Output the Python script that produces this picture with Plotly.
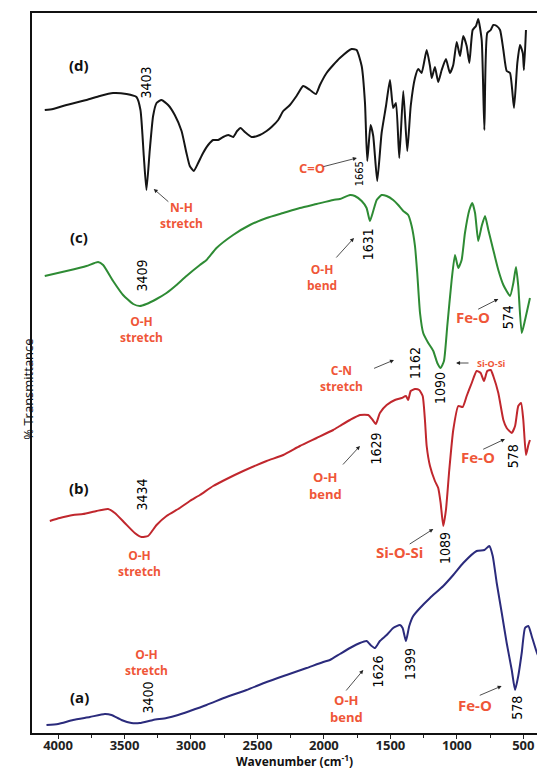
import plotly.graph_objects as go

# ---------------- data (wavenumber cm^-1, transmittance in arbitrary offset units) ----------------
wn_d = [4100, 4038, 3937, 3786, 3686, 3586, 3485, 3410, 3380, 3355, 3335, 3310, 3285, 3259, 3222, 3172,
        3122, 3071, 3034, 3009, 2979, 2946, 2909, 2871, 2833, 2796, 2758, 2720, 2683, 2653, 2627, 2595,
        2544, 2482, 2431, 2394, 2344, 2306, 2256, 2206, 2156, 2105, 2060, 2030, 1980, 1930, 1880, 1792,
        1754, 1716, 1691, 1674, 1649, 1629, 1599, 1566, 1533, 1503, 1479, 1458, 1433, 1403, 1373, 1347,
        1315, 1290, 1265, 1227, 1202, 1189, 1165, 1140, 1114, 1082, 1052, 1027, 1001, 976, 952, 926,
        906, 881, 856, 839, 813, 793, 771, 745, 726, 700, 675, 650, 625, 600, 570, 545, 525, 504, 495, 480]
tr_d = [623, 624, 628, 633, 637, 640, 639, 636, 623, 577, 543, 583, 617, 630, 633, 628,
        618, 602, 580, 567, 562, 570, 580, 588, 593, 593, 596, 598, 596, 602, 605, 601,
        596, 598, 602, 606, 613, 622, 628, 637, 647, 643, 639, 648, 660, 668, 675, 684,
        683, 667, 630, 572, 608, 597, 552, 600, 627, 653, 625, 630, 575, 642, 582, 627,
        655, 664, 660, 683, 667, 655, 666, 651, 663, 674, 660, 668, 691, 677, 697, 687,
        670, 703, 707, 714, 693, 603, 700, 703, 708, 707, 703, 683, 662, 660, 625, 670, 688, 680, 663, 703]

wn_c = [4100, 3937, 3786, 3699, 3661, 3586, 3511, 3435, 3385, 3335, 3259, 3184, 3109, 3034, 2933, 2883,
        2808, 2683, 2557, 2431, 2306, 2181, 2055, 1930, 1880, 1804, 1767, 1716, 1679, 1654, 1629, 1603,
        1566, 1528, 1479, 1441, 1403, 1366, 1340, 1315, 1298, 1277, 1253, 1215, 1177, 1147, 1122, 1097,
        1072, 1039, 1014, 989, 964, 939, 906, 884, 863, 839, 813, 788, 763, 726, 688, 650, 600, 575,
        555, 538, 512, 487, 450]
tr_c = [457, 462, 467, 471, 468, 452, 438, 429, 427, 429, 434, 440, 448, 457, 468, 473,
        485, 498, 508, 515, 520, 525, 529, 533, 534, 538, 537, 532, 525, 512, 522, 533,
        538, 537, 533, 528, 522, 518, 507, 487, 460, 420, 400, 390, 382, 370, 365, 372,
        407, 453, 478, 465, 473, 500, 523, 530, 520, 492, 507, 517, 503, 483, 463, 448, 437, 450,
        466, 447, 400, 413, 435]

wn_b = [4062, 3987, 3887, 3812, 3711, 3624, 3573, 3498, 3423, 3372, 3323, 3259, 3184, 3084, 3009, 2933,
        2833, 2732, 2607, 2431, 2306, 2181, 2055, 1930, 1880, 1804, 1729, 1667, 1633, 1609, 1579, 1528,
        1466, 1415, 1383, 1366, 1347, 1315, 1283, 1257, 1240, 1227, 1202, 1165, 1140, 1122, 1102, 1082,
        1057, 1027, 989, 956, 926, 888, 851, 821, 796, 771, 745, 726, 688, 650, 625, 587, 562, 538,
        517, 500, 480, 462, 450]
tr_b = [212, 215, 218, 219, 222, 224, 220, 210, 200, 196, 197, 208, 217, 225, 232, 238,
        247, 254, 262, 272, 278, 287, 295, 303, 307, 313, 318, 318, 313, 309, 320, 328,
        333, 335, 337, 333, 342, 344, 343, 337, 313, 287, 267, 252, 245, 230, 207, 223,
        263, 303, 327, 326, 337, 350, 362, 360, 352, 362, 363, 357, 340, 313, 305, 300, 307, 327,
        330, 313, 278, 288, 293]

wn_a = [4087, 4000, 3887, 3761, 3648, 3598, 3523, 3448, 3385, 3285, 3184, 3097, 3009, 2883, 2732, 2582,
        2431, 2281, 2130, 2005, 1955, 1880, 1804, 1729, 1679, 1649, 1616, 1579, 1528, 1479, 1428, 1408,
        1383, 1358, 1328, 1277, 1202, 1102, 1027, 952, 851, 793, 756, 730, 700, 662, 625, 587, 562,
        538, 512, 487, 462, 437, 397, 337]
tr_a = [8, 9, 13, 16, 19, 18, 13, 10, 10, 13, 15, 18, 22, 28, 36, 43,
        51, 58, 65, 71, 73, 79, 85, 90, 92, 88, 85, 92, 98, 105, 108, 105,
        92, 107, 117, 125, 135, 147, 158, 170, 182, 183, 187, 177, 150, 120, 90, 63, 43,
        57, 80, 105, 107, 97, 80, 63]

x_ticks = [4000, 3500, 3000, 2500, 2000, 1500, 1000, 500]

# peak labels: (text, wavenumber, level, font size)
peak_labels = [("3403", 3335, 651, 14), ("1665", 1734, 559, 11), ("1631", 1667, 489, 14),
               ("3409", 3372, 457, 14), ("574", 613, 416, 14), ("1162", 1315, 370, 14),
               ("1090", 1127, 345, 14), ("1629", 1611, 284, 14), ("578", 575, 277, 14),
               ("3434", 3365, 239, 14), ("1089", 1089, 185, 14), ("3400", 3327, 35, 14),
               ("1626", 1596, 61, 14), ("1399", 1353, 69, 14), ("578", 550, 25, 14)]

# band assignment labels: (text, wavenumber, level, font size)
band_labels = [("N-H<br>stretch", 3071, 518, 12), ("C=O", 2088, 565, 13),
               ("O-H<br>bend", 2017, 456, 12), ("O-H<br>stretch", 3372, 404, 12),
               ("Fe-O", 876, 416, 15), ("C-N<br>stretch", 1867, 355, 12),
               ("Si-O-Si", 738, 370, 9), ("O-H<br>bend", 1985, 248, 13),
               ("Fe-O", 839, 276, 15), ("O-H<br>stretch", 3389, 170, 12),
               ("Si-O-Si", 1428, 181, 15), ("O-H<br>stretch", 3335, 71, 12),
               ("O-H<br>bend", 1829, 25, 13), ("Fe-O", 863, 28, 15)]

# arrows: (tail wn, tail level, head wn, head level)
arrows = [(3159, 530, 3280, 544), (2015, 566, 1752, 575), (1917, 474, 1774, 495),
          (851, 423, 688, 434), (1634, 364, 1473, 373), (901, 370, 1006, 370),
          (1867, 267, 1729, 287), (813, 283, 638, 294), (1366, 188, 1177, 204),
          (1842, 41, 1704, 63), (839, 37, 663, 47)]

series_labels = [("(d)", 3844, 668), ("(c)", 3842, 496), ("(b)", 3842, 245), ("(a)", 3842, 36)]

# ---------------- figure ----------------
fig = go.Figure()
curves = [(wn_d, tr_d, "#151515", "(d)"), (wn_c, tr_c, "#2E8B34", "(c)"),
          (wn_b, tr_b, "#C0272D", "(b)"), (wn_a, tr_a, "#2B2B7C", "(a)")]
for wn, tr, col, name in curves:
    fig.add_trace(go.Scatter(x=wn, y=tr, mode="lines", name=name,
                             line=dict(color=col, width=2, shape="spline", smoothing=0.5),
                             showlegend=False, hoverinfo="skip"))

ann = []
num_font = "DejaVu Sans Condensed, DejaVu Sans, sans-serif"
for txt, x, y, s in peak_labels:
    ann.append(dict(x=x, y=y, xref="x", yref="y", text=txt, showarrow=False, textangle=-90,
                    font=dict(family=num_font, size=s, color="#000000")))
for txt, x, y, s in band_labels:
    ann.append(dict(x=x, y=y, xref="x", yref="y", text=txt, showarrow=False,
                    font=dict(family="Open Sans", size=s, color="#EF5638", weight="bold")))
for ax, ay, x, y in arrows:
    ann.append(dict(x=x, y=y, ax=ax, ay=ay, xref="x", yref="y", axref="x", ayref="y", text="",
                    showarrow=True, arrowhead=2, arrowsize=1, arrowwidth=0.8, arrowcolor="#222222"))
for txt, x, y in series_labels:
    ann.append(dict(x=x, y=y, xref="x", yref="y", text=txt, showarrow=False,
                    font=dict(family="Open Sans", size=15, color="#111111", weight="bold")))

ann.append(dict(x=0.52, y=-38 / 720, xref="paper", yref="paper", text="Wavenumber (cm<sup>-1</sup>)",
                showarrow=False, yanchor="bottom", borderpad=0,
                font=dict(family="Open Sans", size=12, color="#111111", weight="bold")))
ann.append(dict(x=-0.03, y=0.478, xref="paper", yref="paper", text="% Transmittance",
                showarrow=False, textangle=-90,
                font=dict(family="Open Sans", size=13, color="#111111")))

fig.update_layout(
    width=537, height=771,
    margin=dict(l=32, r=0, t=13, b=38),
    plot_bgcolor="white", paper_bgcolor="white",
    annotations=ann,
    xaxis=dict(range=[4196, 397], tickvals=x_ticks, ticks="outside", ticklen=4, tickwidth=1.2,
               tickcolor="#222", showline=True, linewidth=2, linecolor="#111", mirror=True,
               showgrid=False, zeroline=False, ticklabelstandoff=-5,
               minor=dict(dtick=250, tick0=0, ticks="outside", ticklen=3, tickcolor="#222", showgrid=False),
               tickfont=dict(family="Open Sans", size=13, color="#222", weight="bold")),
    yaxis=dict(range=[0, 720], showticklabels=False, ticks="", showline=True, linewidth=2,
               linecolor="#111", showgrid=False, zeroline=False),
)

fig.write_html("out.html", config={"displayModeBar": False},
               post_script="document.body.style.margin='0';document.body.style.overflow='hidden';")
